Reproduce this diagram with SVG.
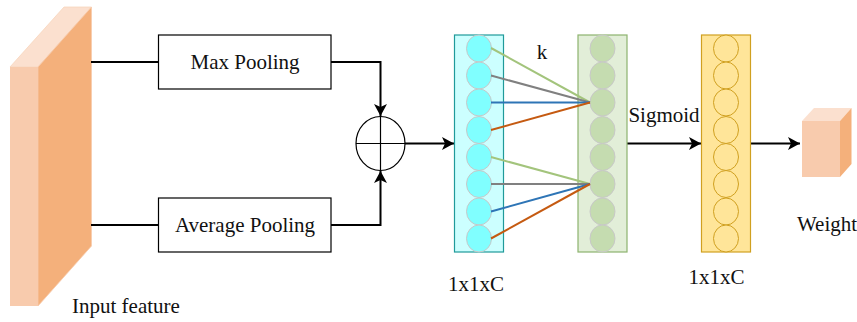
<svg xmlns="http://www.w3.org/2000/svg" width="857" height="322" viewBox="0 0 857 322">
<style>
text{font-family:"Liberation Serif","Times New Roman",serif;font-size:21px;fill:#111}
.box{fill:#fff;stroke:#000;stroke-width:1.2}
.conn{fill:none;stroke:#000;stroke-width:2}
.c1{fill:#80ffff;stroke:#c8c8c8;stroke-width:1}
.c2{fill:#c5dcb0;stroke:#c8c8c8;stroke-width:1}
.c3{fill:#ffe599;stroke:#d0a020;stroke-width:1}
.l{stroke-width:2;fill:none}
.g{stroke:#a3c47c}.k{stroke:#808080}.b{stroke:#2e75b6}.o{stroke:#c55a11}
</style>
<defs><marker id="a" markerUnits="userSpaceOnUse" markerWidth="13" markerHeight="13" refX="12" refY="6.5" orient="auto"><path d="M0 0L12 6.5L0 13L3 6.5Z" fill="#000"/></marker></defs>
<g id="input-feature">
<polygon points="10,67 64,7 91.5,7 38,67" fill="#fbe0cf" stroke="#f8d5bd" stroke-width="0.8"/>
<polygon points="38,67 91.5,7 91.5,246 38,306" fill="#f4b07b" stroke="#f8cbad" stroke-width="0.8"/>
<rect x="10" y="67" width="28" height="239" fill="#f8cbad"/>
<text x="72" y="313">Input feature</text>
</g>
<g id="connectors">
<path class="conn" d="M91 62H158"/>
<path class="conn" d="M91 225H158"/>
<path class="conn" d="M331 62H380.500V116" marker-end="url(#a)"/>
<path class="conn" d="M331 225H380.500V171" marker-end="url(#a)"/>
<path class="conn" d="M405 143.500H454" marker-end="url(#a)"/>
<path class="conn" d="M627 143.500H701" marker-end="url(#a)"/>
<path class="conn" d="M750 143.500H800" marker-end="url(#a)"/>
</g>
<g id="max-pooling"><rect class="box" x="158.500" y="35" width="172.500" height="54"/><text x="245" y="69" text-anchor="middle">Max Pooling</text></g>
<g id="average-pooling"><rect class="box" x="158.500" y="198" width="172.500" height="54"/><text x="245" y="232" text-anchor="middle">Average Pooling</text></g>
<g id="sum">
<ellipse cx="380.500" cy="143.500" rx="24.500" ry="27" fill="#fff" stroke="#000" stroke-width="1.200"/>
<path d="M356 143.500H405M380.500 116.500V170.500" stroke="#000" stroke-width="1.200"/>
</g>
<g id="cyan-column">
<rect x="454.500" y="35" width="49" height="217" fill="#ccffff" stroke="#1f9a9a" stroke-width="1.200"/>
<ellipse class="c1" cx="479" cy="48.500" rx="12.500" ry="13.500"/>
<ellipse class="c1" cx="479" cy="75.500" rx="12.500" ry="13.500"/>
<ellipse class="c1" cx="479" cy="102.500" rx="12.500" ry="13.500"/>
<ellipse class="c1" cx="479" cy="130" rx="12.500" ry="13.500"/>
<ellipse class="c1" cx="479" cy="157" rx="12.500" ry="13.500"/>
<ellipse class="c1" cx="479" cy="184" rx="12.500" ry="13.500"/>
<ellipse class="c1" cx="479" cy="211.500" rx="12.500" ry="13.500"/>
<ellipse class="c1" cx="479" cy="238.500" rx="12.500" ry="13.500"/>
<text x="476" y="291" text-anchor="middle">1x1xC</text>
</g>
<g id="green-column">
<rect x="578" y="35" width="49" height="217" fill="#e2eed8" stroke="#8db36e" stroke-width="1.200"/>
<ellipse class="c2" cx="602.500" cy="48.500" rx="12.500" ry="13.500"/>
<ellipse class="c2" cx="602.500" cy="75.500" rx="12.500" ry="13.500"/>
<ellipse class="c2" cx="602.500" cy="102.500" rx="12.500" ry="13.500"/>
<ellipse class="c2" cx="602.500" cy="130" rx="12.500" ry="13.500"/>
<ellipse class="c2" cx="602.500" cy="157" rx="12.500" ry="13.500"/>
<ellipse class="c2" cx="602.500" cy="184" rx="12.500" ry="13.500"/>
<ellipse class="c2" cx="602.500" cy="211.500" rx="12.500" ry="13.500"/>
<ellipse class="c2" cx="602.500" cy="238.500" rx="12.500" ry="13.500"/>
</g>
<g id="links">
<path class="l g" d="M491 48L590 102.500"/>
<path class="l k" d="M491 75.500L590 102.500"/>
<path class="l b" d="M491 102.500H590"/>
<path class="l o" d="M491 130L590 102.500"/>
<path class="l g" d="M491 157L590 184"/>
<path class="l k" d="M491 184H590"/>
<path class="l b" d="M491 211.500L590 184"/>
<path class="l o" d="M491 238.500L590 184"/>
</g>
<text id="k-label" x="542" y="59" text-anchor="middle">k</text>
<text id="sigmoid-label" x="664" y="122" text-anchor="middle">Sigmoid</text>
<g id="yellow-column">
<rect x="701.500" y="35" width="49" height="217" fill="#ffe599" stroke="#d0a020" stroke-width="1.200"/>
<ellipse class="c3" cx="726" cy="48.500" rx="12.500" ry="13.500"/>
<ellipse class="c3" cx="726" cy="75.500" rx="12.500" ry="13.500"/>
<ellipse class="c3" cx="726" cy="102.500" rx="12.500" ry="13.500"/>
<ellipse class="c3" cx="726" cy="130" rx="12.500" ry="13.500"/>
<ellipse class="c3" cx="726" cy="157" rx="12.500" ry="13.500"/>
<ellipse class="c3" cx="726" cy="184" rx="12.500" ry="13.500"/>
<ellipse class="c3" cx="726" cy="211.500" rx="12.500" ry="13.500"/>
<ellipse class="c3" cx="726" cy="238.500" rx="12.500" ry="13.500"/>
<text x="716.500" y="284" text-anchor="middle">1x1xC</text>
</g>
<g id="weight">
<polygon points="802,121 814,108 851.500,108 840,121" fill="#fbe0cf"/>
<polygon points="840,121 851.500,108 851.500,164 840,177" fill="#f4b07b"/>
<rect x="802" y="121" width="38" height="56" fill="#f8cbad"/>
<text x="827" y="231" text-anchor="middle">Weight</text>
</g>
</svg>
